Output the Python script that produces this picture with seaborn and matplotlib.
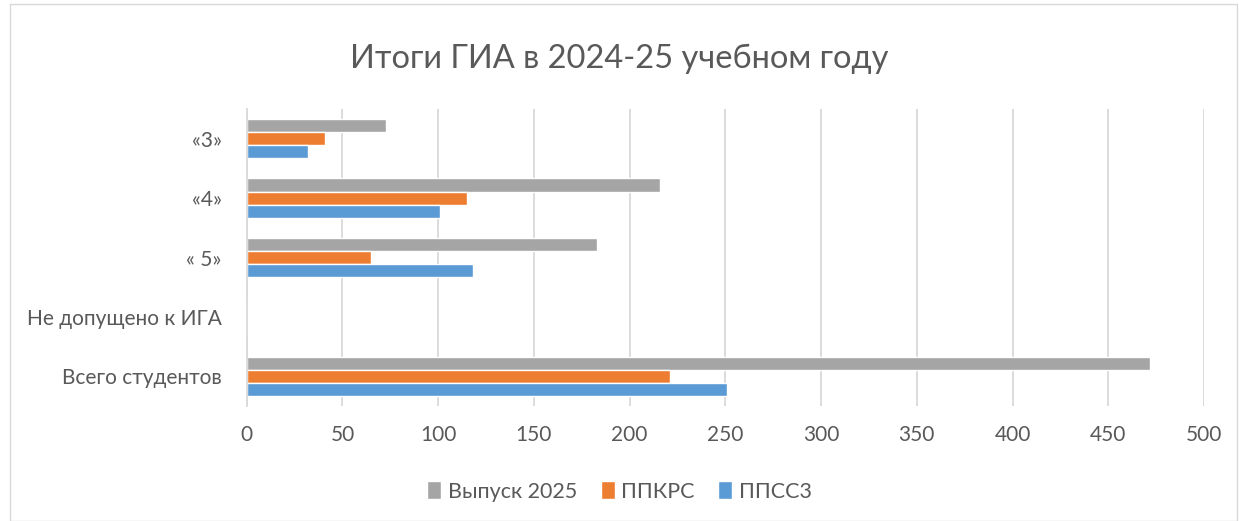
import pandas as pd
import matplotlib.pyplot as plt
import seaborn as sns
from matplotlib.patches import Rectangle

# Chart data
categories = ['«3»', '«4»', '« 5»', 'Не допущено к ИГА', 'Всего студентов']
series_names = ['Выпуск 2025', 'ППКРС', 'ППСС3']
vypusk_2025 = [73, 216, 183, 0, 472]
ppkrs = [41, 115, 65, 0, 221]
ppssz = [32, 101, 118, 0, 251]
x_ticks = [0, 50, 100, 150, 200, 250, 300, 350, 400, 450, 500]

colors = ['#a5a5a5', '#ed7d31', '#5b9bd5']
text_color = '#595959'
grid_color = '#d9d9d9'


def build_frame():
    rows = []
    for name, values in zip(series_names, [vypusk_2025, ppkrs, ppssz]):
        for cat, val in zip(categories, values):
            rows.append({'category': cat, 'series': name, 'value': val})
    return pd.DataFrame(rows)


def main():
    df = build_frame()

    sns.set_style('white')
    plt.rcParams['font.family'] = ['Lato', 'DejaVu Sans']

    fig = plt.figure(figsize=(12.39, 5.21), dpi=100)
    ax = fig.add_axes([246.7 / 1239, 1 - 406 / 521, (1204 - 246.7) / 1239, (406 - 109) / 521])

    sns.barplot(data=df, y='category', x='value', hue='series', order=categories,
                hue_order=series_names, palette=colors, orient='h', width=0.66,
                saturation=1, ax=ax, legend=True)

    ax.set_xlim(0, 500)
    ax.set_xticks(x_ticks)
    ax.set_xlabel('')
    ax.set_ylabel('')
    ax.grid(axis='x', color=grid_color, linewidth=1.3)
    ax.set_axisbelow(True)
    for side in ['top', 'right', 'bottom']:
        ax.spines[side].set_visible(False)
    ax.spines['left'].set_color(grid_color)
    ax.spines['left'].set_linewidth(1.3)
    ax.tick_params(axis='both', length=0, labelsize=15, colors=text_color)
    ax.tick_params(axis='x', pad=14)
    ax.tick_params(axis='y', pad=18)

    leg = ax.legend(loc='center', bbox_to_anchor=(0.5, 1 - 492 / 521), bbox_transform=fig.transFigure,
                    ncol=3, frameon=False, fontsize=15.5, labelcolor=text_color,
                    handlelength=0.65, handleheight=0.65, handletextpad=0.3, columnspacing=1.1)
    for handle in leg.legend_handles:
        handle.set_height(13)
        handle.set_y(-1)

    fig.text(0.5, 1 - 59 / 521, 'Итоги ГИА в 2024-25 учебном году', ha='center', va='center',
             fontsize=23.5, color=text_color)

    # outer chart border
    fig.patches.append(Rectangle((10 / 1239, 0), 1 - 10 / 1239 - 2 / 1239, 1 - 4 / 521,
                                 transform=fig.transFigure, fill=False,
                                 edgecolor=grid_color, linewidth=1))

    fig.savefig('out.png', dpi=100)


if __name__ == '__main__':
    main()
